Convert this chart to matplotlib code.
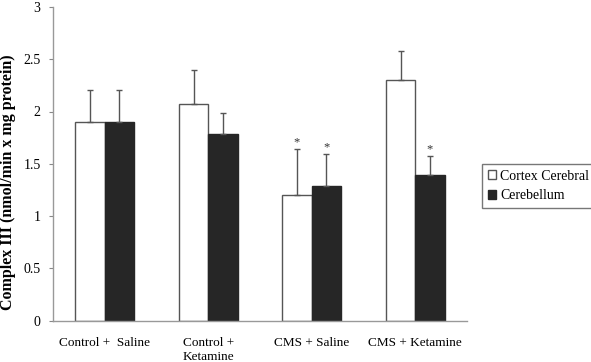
import matplotlib
matplotlib.use("Agg")
import matplotlib.pyplot as plt
import numpy as np

categories = ["Control +  Saline", "Control +\nKetamine", "CMS + Saline", "CMS + Ketamine"]
cortex = [1.90, 2.07, 1.20, 2.30]
cortex_err = [0.31, 0.33, 0.44, 0.28]
cerebellum = [1.90, 1.78, 1.29, 1.39]
cerebellum_err = [0.31, 0.21, 0.30, 0.18]
cortex_sig = [False, False, True, False]
cerebellum_sig = [False, False, True, True]
yticks = [0, 0.5, 1, 1.5, 2, 2.5, 3]
ytick_labels = ["0", "0.5", "1", "1.5", "2", "2.5", "3"]

SERIF = ['Liberation Serif', 'DejaVu Serif']
plt.rcParams['font.family'] = SERIF

fig = plt.figure(figsize=(5.91, 3.62), dpi=100)
ax = fig.add_axes([53/591, 1-320.5/362, (467-53)/591, (320.5-7)/362])

x = np.arange(len(categories))
w = 0.285
edge = "#555555"
ax.bar(x - w/2, cortex, w, color="white", edgecolor=edge, linewidth=1.0,
       label="Cortex Cerebral", zorder=2)
ax.bar(x + w/2, cerebellum, w, color="#262626", edgecolor="#262626", linewidth=1.0,
       label="Cerebellum", zorder=2)
ax.errorbar(x - w/2, cortex, yerr=[np.zeros(len(x)), cortex_err], fmt="none",
            ecolor="#555555", elinewidth=1.0, capsize=2.5, capthick=1.0, zorder=3)
ax.errorbar(x + w/2, cerebellum, yerr=[np.zeros(len(x)), cerebellum_err], fmt="none",
            ecolor="#555555", elinewidth=1.0, capsize=2.5, capthick=1.0, zorder=3)

for i in range(len(x)):
    if cortex_sig[i]:
        ax.text(x[i] - w/2, cortex[i] + cortex_err[i] + 0.01, "*", ha="center",
                va="bottom", fontsize=9, color="#333333", family=SERIF)
    if cerebellum_sig[i]:
        ax.text(x[i] + w/2, cerebellum[i] + cerebellum_err[i] + 0.01, "*", ha="center",
                va="bottom", fontsize=9, color="#333333", family=SERIF)

ax.set_xlim(-0.5, 3.5)
ax.set_ylim(0, 3)
ax.set_yticks(yticks)
ax.set_yticklabels(ytick_labels, family=SERIF, fontsize=10)
ax.set_xticks(x)
ax.set_xticklabels(categories, fontsize=9.5, family=SERIF)
ax.tick_params(axis="x", length=0, pad=12)
ax.tick_params(axis="y", length=3, width=0.8, color="#888888", pad=6)
for s in ["top", "right"]:
    ax.spines[s].set_visible(False)
for s in ["left", "bottom"]:
    ax.spines[s].set_color("#999999")
    ax.spines[s].set_linewidth(1.0)

ax.set_ylabel("Complex III (nmol/min x mg protein)", fontsize=11.5, fontweight="bold",
              family=SERIF)
ax.yaxis.set_label_coords(-37/414, 0.44)

leg = ax.legend(loc="center left", bbox_to_anchor=(482/591, 1-186/362),
                bbox_transform=fig.transFigure, frameon=True, fancybox=False,
                prop={'family': SERIF, 'size': 10},
                handlelength=0.6, handleheight=0.6, handletextpad=0.3,
                borderpad=0.4, labelspacing=0.5, borderaxespad=0)
leg.get_frame().set_edgecolor("#555555")
leg.get_frame().set_linewidth(1.0)

fig.savefig("out.png", dpi=100)
